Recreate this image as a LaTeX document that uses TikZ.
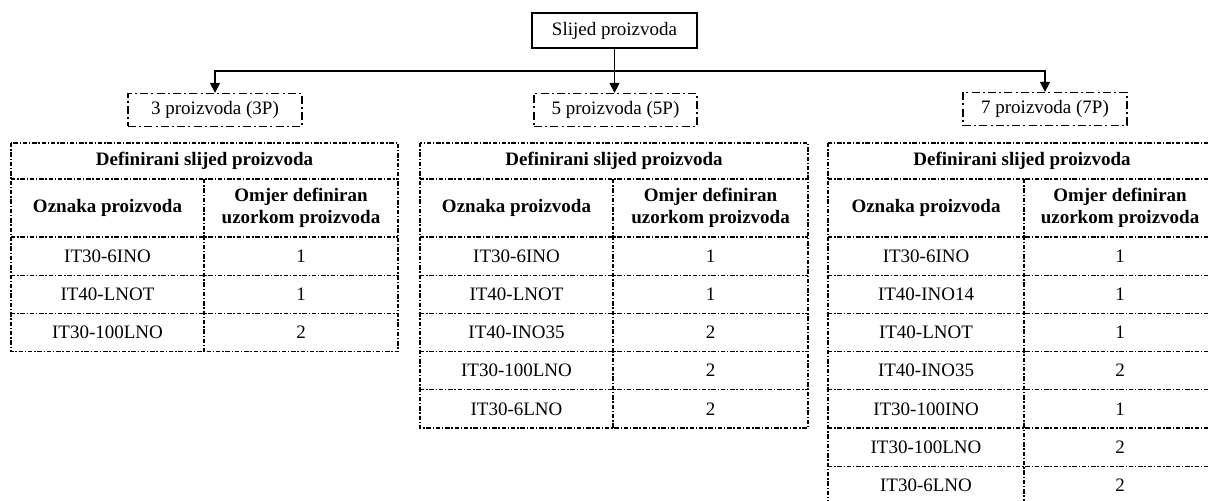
\documentclass[tikz,border=0pt]{standalone}
\usepackage{fontspec}
\setmainfont{Liberation Serif}
\usetikzlibrary{arrows.meta, positioning}

\begin{document}
\begin{tikzpicture}[
    x=0.5pt, y=-0.5pt,
    every node/.style={font=\fontsize{9.5}{11}\selectfont},
    topbox/.style={draw, line width=0.7pt, minimum width=82.5pt, minimum height=17.5pt, inner sep=0pt},
    groupbox/.style={draw, line width=0.65pt, dash pattern=on 4pt off 1.6pt on 1pt off 1.6pt,
                     minimum height=16.5pt, inner sep=0pt},
    cell/.style={inner sep=0pt, outer sep=0pt, anchor=north west, align=center, minimum height=19.1pt},
    headcell/.style={cell, font=\fontsize{9.5}{11}\selectfont\bfseries},
    grid/.style={line width=0.6pt, dash pattern=on 2.2pt off 0.9pt on 0.7pt off 0.9pt},
    arr/.style={-{Triangle[length=5pt,width=5pt]}, line width=0.7pt}
  ]
    \useasboundingbox (0,0) rectangle (1208,501);

    % top and the three groups
    \node[topbox] (root) at (614.5,30.5) {Slijed proizvoda};
    \node[groupbox, minimum width=87pt]   (p3) at (215,110)   {3 proizvoda (3P)};
    \node[groupbox, minimum width=81.5pt] (p5) at (615.5,110) {5 proizvoda (5P)};
    \node[groupbox, minimum width=82pt]   (p7) at (1045,109)  {7 proizvoda (7P)};

    \coordinate (split) at (614.5,71);
    \draw[line width=0.7pt] (root.south) -- (split);
    \draw[arr] (split) -| (p3.north);
    \draw[arr] (split) -- (split |- p5.north);
    \draw[arr] (split) -| (p7.north);

    % table 3P
    \node[headcell, minimum width=193.5pt, minimum height=18pt] (t1h) at (11,143) {Definirani slijed proizvoda};
    \node[headcell, minimum width=96.5pt, minimum height=29pt] (t1a) at (11,179) {Oznaka proizvoda};
    \node[headcell, minimum width=97pt, minimum height=29pt] (t1b) at (t1a.north east) {Omjer definiran\\uzorkom proizvoda};
    \foreach \lab/\val [count=\i] in {IT30-6INO/1, IT40-LNOT/1, IT30-100LNO/2} {
      \node[cell, minimum width=96.5pt] (t1r\i) at (11,{237+38.2*(\i-1)}) {\lab};
      \node[cell, minimum width=97pt] (t1v\i) at (t1r\i.north east) {\val};
      \draw[grid] (t1r\i.north west) -- (t1v\i.north east);
    }
    \draw[grid] (t1h.north west) rectangle (t1v3.south east);
    \draw[grid] (t1a.north west) -- (t1b.north east);
    \draw[grid] (t1a.north east) -- (t1r3.south east);

    % table 5P
    \node[headcell, minimum width=194pt, minimum height=18pt] (t2h) at (420,143) {Definirani slijed proizvoda};
    \node[headcell, minimum width=96.5pt, minimum height=29pt] (t2a) at (420,179) {Oznaka proizvoda};
    \node[headcell, minimum width=97.5pt, minimum height=29pt] (t2b) at (t2a.north east) {Omjer definiran\\uzorkom proizvoda};
    \foreach \lab/\val [count=\i] in {IT30-6INO/1, IT40-LNOT/1, IT40-INO35/2, IT30-100LNO/2, IT30-6LNO/2} {
      \node[cell, minimum width=96.5pt] (t2r\i) at (420,{237+38.2*(\i-1)}) {\lab};
      \node[cell, minimum width=97.5pt] (t2v\i) at (t2r\i.north east) {\val};
      \draw[grid] (t2r\i.north west) -- (t2v\i.north east);
    }
    \draw[grid] (t2h.north west) rectangle (t2v5.south east);
    \draw[grid] (t2a.north west) -- (t2b.north east);
    \draw[grid] (t2a.north east) -- (t2r5.south east);

    % table 7P
    \node[headcell, minimum width=194pt, minimum height=18pt] (t3h) at (828,143) {Definirani slijed proizvoda};
    \node[headcell, minimum width=98pt, minimum height=29pt] (t3a) at (828,179) {Oznaka proizvoda};
    \node[headcell, minimum width=96pt, minimum height=29pt] (t3b) at (t3a.north east) {Omjer definiran\\uzorkom proizvoda};
    \foreach \lab/\val [count=\i] in {IT30-6INO/1, IT40-INO14/1, IT40-LNOT/1, IT40-INO35/2,
                                      IT30-100INO/1, IT30-100LNO/2, IT30-6LNO/2} {
      \node[cell, minimum width=98pt] (t3r\i) at (828,{237+38.2*(\i-1)}) {\lab};
      \node[cell, minimum width=96pt] (t3v\i) at (t3r\i.north east) {\val};
      \draw[grid] (t3r\i.north west) -- (t3v\i.north east);
    }
    \draw[grid] (t3h.north west) rectangle (t3v7.south east);
    \draw[grid] (t3a.north west) -- (t3b.north east);
    \draw[grid] (t3a.north east) -- (t3r7.south east);
  \end{tikzpicture}
\end{document}
